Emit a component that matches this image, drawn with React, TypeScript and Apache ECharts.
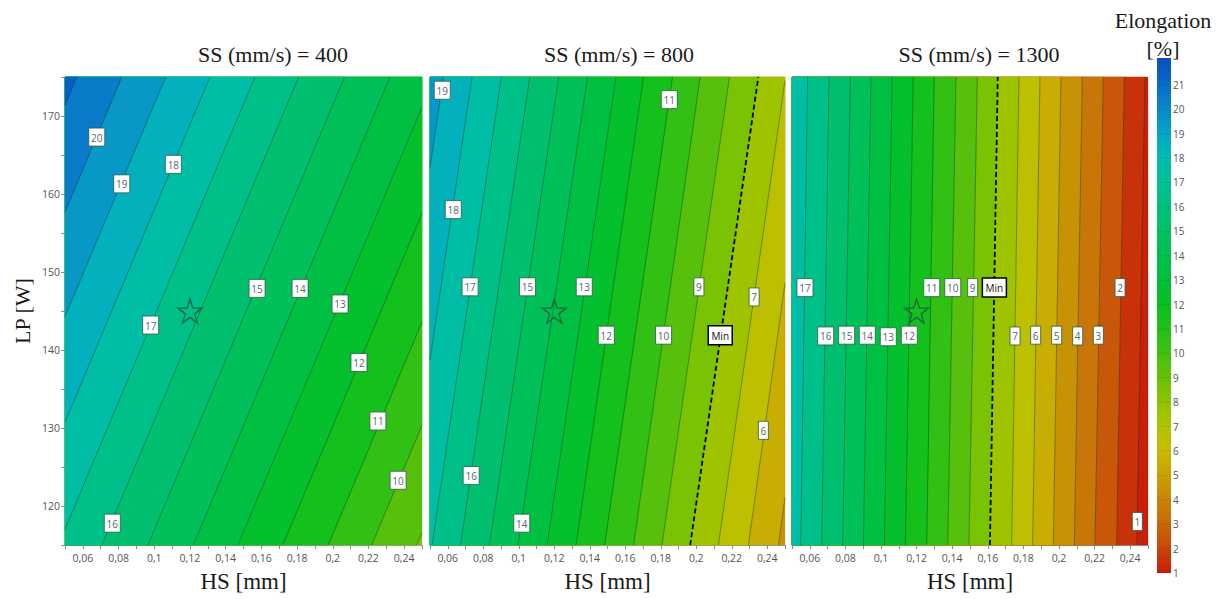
import React, { useEffect, useRef } from "react";
import * as echarts from "echarts";

// ---------------- data ----------------
const PANEL_TITLES = ["SS (mm/s) = 400", "SS (mm/s) = 800", "SS (mm/s) = 1300"];

// each contour line is given by its HS value at LP = 115 W (bottom) and LP = 175 W (top)
const LP_BOTTOM = 115;
const LP_TOP = 175;

const P1_LEVELS = [21, 20, 19, 18, 17, 16, 15, 14, 13, 12, 11, 10, 9];
const P1_HS_AT_BOTTOM = [-0.0536, -0.0284, -0.0038, 0.0211, 0.0463, 0.0707, 0.0965, 0.1219, 0.1469, 0.172, 0.1975, 0.2218, 0.247];
const P1_HS_AT_TOP = [0.0566, 0.0818, 0.1064, 0.1312, 0.1564, 0.1809, 0.2066, 0.232, 0.2571, 0.2821, 0.3076, 0.332, 0.3572];

const P2_LEVELS = [19, 18, 17, 16, 15, 14, 13, 12, 11, 10, 9, 8, 7, 6, 5];
const P2_HS_AT_BOTTOM = [0.0183, 0.0345, 0.0512, 0.0672, 0.0835, 0.0996, 0.116, 0.1323, 0.1484, 0.1647, 0.1807, 0.1966, 0.2125, 0.2294, 0.2463];
const P2_HS_AT_TOP = [0.0576, 0.0737, 0.0902, 0.1062, 0.1225, 0.1388, 0.1548, 0.1703, 0.1866, 0.2022, 0.2187, 0.235, 0.2503, 0.2662, 0.2827];

const P3_LEVELS = [17, 16, 15, 14, 13, 12, 11, 10, 9, 8, 7, 6, 5, 4, 3, 2, 1];
const P3_HS_AT_BOTTOM = [0.0549, 0.0667, 0.0785, 0.0901, 0.1019, 0.1137, 0.1257, 0.1375, 0.1494, 0.1612, 0.1734, 0.1852, 0.1968, 0.2086, 0.2202, 0.2324, 0.2437];
const P3_HS_AT_TOP = [0.0588, 0.0708, 0.0828, 0.0944, 0.1063, 0.1181, 0.1299, 0.1421, 0.1541, 0.1656, 0.1775, 0.1893, 0.2011, 0.2131, 0.2249, 0.2367, 0.2483];

const MIN_LEVEL = 8; // dashed "Min" contour

// contour labels
const P1_LABEL_TEXT = ["20", "19", "18", "17", "16", "15", "14", "13", "12", "11", "10"];
const P1_LABEL_HS = [0.0678, 0.0818, 0.1107, 0.098, 0.0765, 0.1576, 0.1817, 0.2041, 0.2147, 0.2253, 0.2366];
const P1_LABEL_LP = [167.3, 161.3, 163.8, 143.2, 117.8, 147.9, 147.9, 145.9, 138.4, 130.9, 123.3];

const P2_LABEL_TEXT = ["19", "18", "17", "15", "13", "12", "11", "10", "9", "Min", "7", "6", "16", "14"];
const P2_LABEL_HS = [0.0569, 0.0631, 0.0726, 0.1049, 0.1369, 0.1493, 0.1848, 0.1816, 0.2015, 0.2135, 0.2326, 0.2378, 0.0732, 0.1017];
const P2_LABEL_LP = [173.3, 158.0, 148.1, 148.1, 148.1, 141.9, 172.1, 141.9, 148.1, 141.9, 146.8, 129.7, 123.9, 117.8];

const P3_LABEL_TEXT = ["17", "16", "15", "14", "13", "12", "11", "10", "9", "Min", "7", "6", "5", "4", "3", "2", "1"];
const P3_LABEL_HS = [0.0573, 0.0689, 0.0807, 0.0923, 0.1041, 0.1159, 0.1285, 0.1403, 0.1515, 0.1637, 0.1753, 0.1869, 0.1987, 0.2105, 0.2221, 0.2343, 0.244];
const P3_LABEL_LP = [148.0, 141.8, 141.9, 141.9, 141.7, 141.9, 148.0, 148.0, 148.0, 148.0, 141.8, 141.9, 141.9, 141.8, 141.9, 148.0, 118.0];

// optimum marker (star)
const STAR_HS = [0.12, 0.12, 0.12];
const STAR_LP = [145, 145, 145];

// colour scale (Elongation %)
const COLORBAR_VALUES = [1, 2, 3, 4, 5, 6, 7, 8, 9, 10, 11, 12, 13, 14, 15, 16, 17, 18, 19, 20, 21, 22];
const COLORBAR_COLORS = [
  "#c81e0a", "#c8460a", "#c86808", "#c88406", "#c8a004", "#c8bc00", "#b0c400", "#8cc400",
  "#68c008", "#44c010", "#20c018", "#08c020", "#00c038", "#00c050", "#00c064", "#00c07c",
  "#00c096", "#00bcb4", "#04a6c4", "#0a8ac8", "#0a6cc8", "#0a50c0",
];
const COLORBAR_TICKS = [1, 2, 3, 4, 5, 6, 7, 8, 9, 10, 11, 12, 13, 14, 15, 16, 17, 18, 19, 20, 21];
const COLORBAR_MAX = 22.1;

// ---------------- layout ----------------
const GRIDS = [
  { left: 65, top: 77, width: 357, height: 468 },
  { left: 430, top: 77, width: 355, height: 468 },
  { left: 792, top: 77, width: 356, height: 468 },
];
const TITLE_X = [273, 619, 979];
const SERIF = "'Liberation Serif', 'Times New Roman', serif";
const SANS = "'Open Sans', 'Noto Sans', sans-serif";

const PANELS = [
  { levels: P1_LEVELS, bottom: P1_HS_AT_BOTTOM, top: P1_HS_AT_TOP, lt: P1_LABEL_TEXT, lx: P1_LABEL_HS, ly: P1_LABEL_LP },
  { levels: P2_LEVELS, bottom: P2_HS_AT_BOTTOM, top: P2_HS_AT_TOP, lt: P2_LABEL_TEXT, lx: P2_LABEL_HS, ly: P2_LABEL_LP },
  { levels: P3_LEVELS, bottom: P3_HS_AT_BOTTOM, top: P3_HS_AT_TOP, lt: P3_LABEL_TEXT, lx: P3_LABEL_HS, ly: P3_LABEL_LP },
];

// ---------------- geometry helpers ----------------
type Pt = number[];
function clipPolygon(pts: Pt[], x0: number, y0: number, x1: number, y1: number): Pt[] {
  const planes = [
    { inside: (p: Pt) => p[0] >= x0, inter: (a: Pt, b: Pt) => { const t = (x0 - a[0]) / (b[0] - a[0]); return [x0, a[1] + t * (b[1] - a[1])]; } },
    { inside: (p: Pt) => p[0] <= x1, inter: (a: Pt, b: Pt) => { const t = (x1 - a[0]) / (b[0] - a[0]); return [x1, a[1] + t * (b[1] - a[1])]; } },
    { inside: (p: Pt) => p[1] >= y0, inter: (a: Pt, b: Pt) => { const t = (y0 - a[1]) / (b[1] - a[1]); return [a[0] + t * (b[0] - a[0]), y0]; } },
    { inside: (p: Pt) => p[1] <= y1, inter: (a: Pt, b: Pt) => { const t = (y1 - a[1]) / (b[1] - a[1]); return [a[0] + t * (b[0] - a[0]), y1]; } },
  ];
  let out = pts;
  for (const pl of planes) {
    const inp = out;
    out = [];
    if (!inp.length) break;
    for (let i = 0; i < inp.length; i++) {
      const cur = inp[i];
      const prev = inp[(i + inp.length - 1) % inp.length];
      const ci = pl.inside(cur);
      const pi = pl.inside(prev);
      if (ci) {
        if (!pi) out.push(pl.inter(prev, cur));
        out.push(cur);
      } else if (pi) {
        out.push(pl.inter(prev, cur));
      }
    }
  }
  return out;
}

function clipSegment(a: Pt, b: Pt, x0: number, y0: number, x1: number, y1: number): Pt[] | null {
  let t0 = 0, t1 = 1;
  const dx = b[0] - a[0], dy = b[1] - a[1];
  const p = [-dx, dx, -dy, dy];
  const q = [a[0] - x0, x1 - a[0], a[1] - y0, y1 - a[1]];
  for (let i = 0; i < 4; i++) {
    if (p[i] === 0) {
      if (q[i] < 0) return null;
    } else {
      const r = q[i] / p[i];
      if (p[i] < 0) { if (r > t1) return null; if (r > t0) t0 = r; }
      else { if (r < t0) return null; if (r < t1) t1 = r; }
    }
  }
  return [[a[0] + t0 * dx, a[1] + t0 * dy], [a[0] + t1 * dx, a[1] + t1 * dy]];
}

const clampColorValue = (v: number) => Math.max(COLORBAR_VALUES[0], Math.min(COLORBAR_VALUES[COLORBAR_VALUES.length - 1], v));

const STAR_PATH = "path://M50,2 L61.2,36.4 L97.6,36.4 L68.2,57.8 L79.4,92.2 L50,70.9 L20.6,92.2 L31.8,57.8 L2.4,36.4 L38.8,36.4 Z";

function buildOption() {
  const xAxes: any[] = [];
  const yAxes: any[] = [];
  const series: any[] = [];
  const fillSeriesIdx: number[] = [];

  PANELS.forEach((pn, i) => {
    xAxes.push({
      gridIndex: i,
      type: "value",
      min: 0.05,
      max: 0.25,
      interval: 0.01,
      axisLine: { show: true, lineStyle: { color: "#9a9a9a", width: 1 } },
      axisTick: { show: true, length: 4, lineStyle: { color: "#8a8a8a" } },
      axisLabel: {
        color: "#555",
        fontSize: 10.5,
        fontFamily: SANS,
        margin: 7,
        formatter: (v: number) => {
          const k = Math.round(v * 100);
          if (k % 2 !== 0) return "";
          return String(k / 100).replace(".", ",");
        },
      },
      splitLine: { show: false },
      name: "HS [mm]",
      nameLocation: "middle",
      nameGap: 25,
      nameTextStyle: { fontFamily: SERIF, fontSize: 23, color: "#1a1a1a" },
    });
    if (i === 0) {
      yAxes.push({
        gridIndex: 0,
        type: "value",
        min: 115,
        max: 175,
        interval: 5,
        axisLine: { show: true, lineStyle: { color: "#9a9a9a" } },
        axisTick: { show: true, length: 4, lineStyle: { color: "#8a8a8a" } },
        axisLabel: {
          color: "#555",
          fontSize: 10.5,
          fontFamily: SANS,
          margin: 5,
          formatter: (v: number) => (Math.round(v) % 10 === 0 ? String(Math.round(v)) : ""),
        },
        splitLine: { show: false },
        name: "LP [W]",
        nameLocation: "middle",
        nameGap: 32,
        nameRotate: 90,
        nameTextStyle: { fontFamily: SERIF, fontSize: 22, color: "#1a1a1a" },
      });
    } else {
      yAxes.push({ gridIndex: i, type: "value", min: 115, max: 175, show: false });
    }

    // filled bands (half-planes painted from low to high level)
    const asc = pn.levels
      .map((L, k) => ({ L, b: pn.bottom[k], t: pn.top[k] }))
      .sort((a, b) => a.L - b.L);
    const minL = asc[0].L;
    const fillData: any[] = [[clampColorValue(minL - 0.5), 0, 0, 0]];
    asc.forEach((d) => fillData.push([clampColorValue(d.L + 0.5), d.b, d.t, 1]));
    fillSeriesIdx.push(series.length);
    series.push({
      type: "custom",
      xAxisIndex: i,
      yAxisIndex: i,
      silent: true,
      z: 1,
      data: fillData,
      renderItem: (params: any, api: any) => {
        const cs = params.coordSys;
        const x0 = cs.x, y0 = cs.y, x1 = cs.x + cs.width, y1 = cs.y + cs.height;
        const color = api.visual("color");
        let pts: Pt[];
        if (api.value(3) === 0) {
          pts = [[x0, y0], [x1, y0], [x1, y1], [x0, y1]];
        } else {
          const b = api.coord([api.value(1), LP_BOTTOM]);
          const t = api.coord([api.value(2), LP_TOP]);
          const farX = x0 - 2000;
          pts = clipPolygon([b, t, [farX, t[1]], [farX, b[1]]], x0, y0, x1, y1);
        }
        if (pts.length < 3) return { type: "group", children: [] };
        return { type: "polygon", shape: { points: pts }, style: { fill: color, stroke: color, lineWidth: 0.3 } };
      },
    });

    // contour lines
    series.push({
      type: "custom",
      xAxisIndex: i,
      yAxisIndex: i,
      silent: true,
      z: 2,
      data: pn.levels.map((L, k) => [L, pn.bottom[k], pn.top[k]]),
      renderItem: (params: any, api: any) => {
        const cs = params.coordSys;
        const b = api.coord([api.value(1), LP_BOTTOM]);
        const t = api.coord([api.value(2), LP_TOP]);
        const seg = clipSegment(b, t, cs.x, cs.y, cs.x + cs.width, cs.y + cs.height);
        if (!seg) return { type: "group", children: [] };
        const isMin = api.value(0) === MIN_LEVEL;
        return {
          type: "line",
          shape: { x1: seg[0][0], y1: seg[0][1], x2: seg[1][0], y2: seg[1][1] },
          style: isMin
            ? { stroke: "#000", lineWidth: 1.8, lineDash: [5, 3] }
            : { stroke: "rgba(15,45,25,0.5)", lineWidth: 0.8 },
        };
      },
    });

    // star
    series.push({
      type: "scatter",
      xAxisIndex: i,
      yAxisIndex: i,
      silent: true,
      z: 3,
      symbol: STAR_PATH,
      symbolSize: 24,
      itemStyle: { color: "rgba(0,0,0,0)", borderColor: "#1b6a3c", borderWidth: 1.4, opacity: 1 },
      data: [[STAR_HS[i], STAR_LP[i]]],
    });

    // contour labels
    const texts = pn.lt;
    series.push({
      type: "custom",
      xAxisIndex: i,
      yAxisIndex: i,
      silent: true,
      z: 4,
      data: pn.lx.map((x, k) => [x, pn.ly[k]]),
      renderItem: (params: any, api: any) => {
        const txt = texts[params.dataIndex];
        const c = api.coord([api.value(0), api.value(1)]);
        const isMin = txt === "Min";
        const w = isMin ? 24 : txt.length === 1 ? 10 : 16;
        const h = isMin ? 19 : 18;
        return {
          type: "group",
          children: [
            {
              type: "rect",
              shape: { x: c[0] - w / 2, y: c[1] - h / 2, width: w, height: h },
              style: { fill: "#ffffff", stroke: isMin ? "#000" : "#2d5a45", lineWidth: isMin ? 1.5 : 0.8 },
            },
            {
              type: "text",
              style: {
                text: txt,
                x: c[0],
                y: c[1] + 0.5,
                align: "center",
                verticalAlign: "middle",
                fontSize: 10,
                fontFamily: SANS,
                fill: isMin ? "#111" : "#5b6767",
              },
            },
          ],
        };
      },
    });
  });

  // colour bar
  xAxes.push({ gridIndex: 3, type: "value", min: 0, max: 1, show: false });
  yAxes.push({
    gridIndex: 3,
    type: "value",
    min: 1,
    max: COLORBAR_MAX,
    interval: 1,
    position: "right",
    axisLine: { show: false },
    axisTick: { show: false },
    splitLine: { show: false },
    axisLabel: {
      color: "#555",
      fontSize: 10,
      fontFamily: SANS,
      margin: 2,
      showMaxLabel: false,
      formatter: (v: number) => (COLORBAR_TICKS.indexOf(Math.round(v)) >= 0 && Math.abs(v - Math.round(v)) < 1e-6 ? String(Math.round(v)) : ""),
    },
  });
  const span = COLORBAR_MAX - COLORBAR_VALUES[0];
  const stops = COLORBAR_VALUES.map((v, k) => ({ offset: (v - COLORBAR_VALUES[0]) / span, color: COLORBAR_COLORS[k] }));
  series.push({
    type: "custom",
    xAxisIndex: 3,
    yAxisIndex: 3,
    silent: true,
    data: [[0]],
    renderItem: (params: any, api: any) => {
      const tl = api.coord([0, COLORBAR_MAX]);
      const br = api.coord([1, COLORBAR_VALUES[0]]);
      const children: any[] = [
        {
          type: "rect",
          shape: { x: tl[0], y: tl[1], width: br[0] - tl[0], height: br[1] - tl[1] },
          style: { fill: new echarts.graphic.LinearGradient(0, 1, 0, 0, stops) },
        },
      ];
      COLORBAR_TICKS.forEach((v) => {
        const p = api.coord([0, v]);
        children.push({
          type: "line",
          shape: { x1: tl[0], y1: p[1], x2: br[0], y2: p[1] },
          style: { stroke: "rgba(0,0,0,0.08)", lineWidth: 1 },
        });
      });
      return { type: "group", children };
    },
  });

  const titleStyle = { fontFamily: SERIF, fontSize: 22, fontWeight: "normal", color: "#1a1a1a" };
  return {
    animation: false,
    backgroundColor: "#ffffff",
    title: [
      ...PANEL_TITLES.map((t, i) => ({ text: t, left: TITLE_X[i], top: 43, textAlign: "center", padding: 0, textStyle: titleStyle })),
      { text: "Elongation\n[%]", left: 1163, top: 6, textAlign: "center", padding: 0, textStyle: { ...titleStyle, lineHeight: 28 } },
    ],
    grid: [...GRIDS.map((g) => ({ ...g, containLabel: false })), { left: 1157, top: 58, width: 14, height: 515 }],
    xAxis: xAxes,
    yAxis: yAxes,
    visualMap: {
      type: "continuous",
      show: false,
      min: COLORBAR_VALUES[0],
      max: COLORBAR_VALUES[COLORBAR_VALUES.length - 1],
      dimension: 0,
      seriesIndex: fillSeriesIdx,
      inRange: { color: COLORBAR_COLORS },
    },
    series,
  };
}

export default function App() {
  const ref = useRef<HTMLDivElement>(null);
  useEffect(() => {
    if (!ref.current) return;
    const chart = echarts.init(ref.current, undefined, { renderer: "svg" });
    chart.setOption(buildOption() as any);
    return () => chart.dispose();
  }, []);
  return <div ref={ref} style={{ position: "absolute", left: 0, top: 0, width: 1223, height: 599 }} />;
}
